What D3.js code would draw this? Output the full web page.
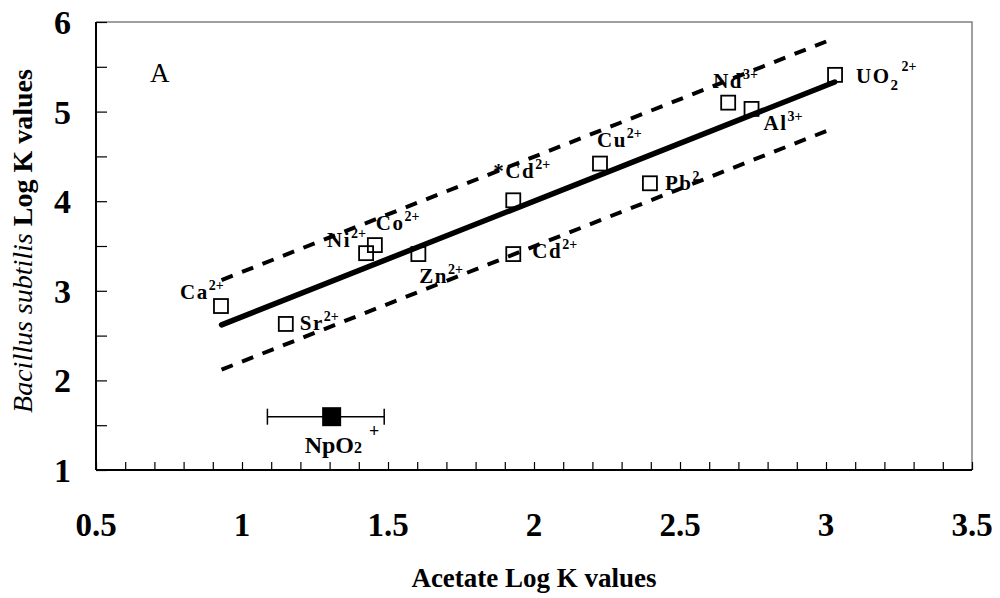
<!DOCTYPE html>
<html>
<head>
<meta charset="utf-8">
<script src="https://cdn.jsdelivr.net/npm/d3@7"></script>
<style>
  body { margin: 0; background: #fff; }
  text { font-family: "Liberation Serif", "Times New Roman", serif; }
</style>
</head>
<body>
<div id="chart"></div>
<script>
// metal ions: acetate log K (x) vs Bacillus subtilis log K (y)
var ions = ["Ca", "Sr", "Ni", "Co", "Zn", "*Cd", "Cd", "Cu", "Pb", "Nd", "Al", "UO"];
var ionSub = ["", "", "", "", "", "", "", "", "", "", "", "2"];
var ionSup = ["2+", "2+", "2+", "2+", "2+", "2+", "2+", "2+", "2", "3+", "3+", "2+"];
var acetateK = [0.928, 1.150, 1.425, 1.455, 1.604, 1.929, 1.929, 2.226, 2.397, 2.665, 2.745, 3.031];
var bacillusK = [2.83, 2.63, 3.42, 3.51, 3.41, 4.01, 3.41, 4.42, 4.20, 5.10, 5.03, 5.41];

// neptunyl point with error bar
var npX = 1.307, npY = 1.595, npLow = 1.087, npHigh = 1.487;

// regression line and its bounds (endpoints)
var fitX = [0.93, 3.03];
var fitY = [2.62, 5.33];
var upperY = [3.12, 5.82];
var lowerY = [2.12, 4.82];

var xTicks = [0.5, 1, 1.5, 2, 2.5, 3, 3.5];
var yTicks = [1, 2, 3, 4, 5, 6];

function drawChart() {
    // label placement relative to each point (px)
    var labelOffset = {
        "Ca": [-41, -7], "Sr": [14, 6], "Ni": [-39, -6], "Co": [1, -15],
        "Zn": [1, 29], "*Cd": [-20, -22], "Cd": [19, 4], "Cu": [-3, -17],
        "Pb": [15, 7], "Nd": [-15, -15], "Al": [12, 21], "UO": [21, 8]
    };

    var width = 1000, height = 598;
    var mLeft = 96, mRight = 972, mTop = 22, mBottom = 470;

    var svg = d3.select("#chart").append("svg")
        .attr("width", width)
        .attr("height", height);

    var x = d3.scaleLinear().domain([0.5, 3.5]).range([mLeft, mRight]);
    var y = d3.scaleLinear().domain([1, 6]).range([mBottom, mTop]);

    // frame (top and right in grey)
    svg.append("path")
        .attr("d", "M" + mLeft + "," + mTop + "H" + mRight + "V" + mBottom)
        .style("fill", "none")
        .style("stroke", "#808080")
        .style("stroke-width", 1.5);

    // x axis, ticks inside every 0.1
    var xAxis = svg.append("g")
        .attr("transform", "translate(0," + mBottom + ")")
        .call(d3.axisTop(x).tickValues(d3.range(5, 36).map(function (d) { return d / 10; }))
            .tickSize(8).tickFormat(""));
    xAxis.select(".domain").remove();
    xAxis.selectAll("line").style("stroke", "#000").style("stroke-width", 1.2);
    svg.append("line")
        .attr("x1", mLeft).attr("x2", mRight)
        .attr("y1", mBottom).attr("y2", mBottom)
        .style("stroke", "#000").style("stroke-width", 2);

    // y axis, ticks inside every 0.5
    var yAxis = svg.append("g")
        .attr("transform", "translate(" + mLeft + ",0)")
        .call(d3.axisRight(y).tickValues(d3.range(2, 13).map(function (d) { return d / 2; }))
            .tickSize(11).tickFormat(""));
    yAxis.select(".domain").remove();
    yAxis.selectAll("line").style("stroke", "#000").style("stroke-width", 1.2);
    svg.append("line")
        .attr("x1", mLeft).attr("x2", mLeft)
        .attr("y1", mTop).attr("y2", mBottom)
        .style("stroke", "#000").style("stroke-width", 2);

    // tick labels
    svg.selectAll(".xlab").data(xTicks).enter().append("text")
        .attr("x", function (d) { return x(d); })
        .attr("y", 536)
        .attr("text-anchor", "middle")
        .style("font-size", "33px").style("font-weight", "bold")
        .text(function (d) { return d; });

    svg.selectAll(".ylab").data(yTicks).enter().append("text")
        .attr("x", 71)
        .attr("y", function (d) { return y(d) + 12; })
        .attr("text-anchor", "end")
        .style("font-size", "34px").style("font-weight", "bold")
        .text(function (d) { return d; });

    // axis titles
    svg.append("text")
        .attr("x", 534).attr("y", 587)
        .attr("text-anchor", "middle")
        .style("font-size", "27px").style("font-weight", "bold")
        .text("Acetate Log K values");

    var yt = svg.append("text")
        .attr("transform", "translate(32,241) rotate(-90)")
        .attr("text-anchor", "middle")
        .style("font-size", "28px");
    yt.append("tspan").style("font-style", "italic").text("Bacillus subtilis ");
    yt.append("tspan").style("font-weight", "bold").text("Log K values");

    // panel letter
    svg.append("text")
        .attr("x", 150).attr("y", 82)
        .style("font-size", "27px")
        .text("A");

    // regression line and dashed bounds
    var line = d3.line()
        .x(function (d) { return x(d[0]); })
        .y(function (d) { return y(d[1]); });

    svg.append("path")
        .datum(d3.zip(fitX, upperY))
        .attr("d", line)
        .style("fill", "none").style("stroke", "#000")
        .style("stroke-width", 4).style("stroke-dasharray", "12,10");

    svg.append("path")
        .datum(d3.zip(fitX, lowerY))
        .attr("d", line)
        .style("fill", "none").style("stroke", "#000")
        .style("stroke-width", 4).style("stroke-dasharray", "12,10");

    svg.append("path")
        .datum(d3.zip(fitX, fitY))
        .attr("d", line)
        .style("fill", "none").style("stroke", "#000")
        .style("stroke-width", 5.5).style("stroke-linecap", "round");

    // open squares
    var sq = 14;
    svg.selectAll(".pt").data(ions).enter().append("rect")
        .attr("x", function (d, i) { return x(acetateK[i]) - sq / 2; })
        .attr("y", function (d, i) { return y(bacillusK[i]) - sq / 2; })
        .attr("width", sq).attr("height", sq)
        .style("fill", "none").style("stroke", "#000").style("stroke-width", 1.8);

    // ion labels
    ions.forEach(function (d, i) {
        var off = labelOffset[d];
        var t = svg.append("text")
            .attr("x", x(acetateK[i]) + off[0])
            .attr("y", y(bacillusK[i]) + off[1])
            .style("font-size", "21px").style("font-weight", "bold")
            .style("letter-spacing", "1.5px");
        t.append("tspan").text(d);
        if (ionSub[i]) {
            t.append("tspan").attr("dy", 7).style("font-size", "15px").text(ionSub[i]);
            t.append("tspan").attr("dy", -19).attr("dx", 2).style("font-size", "14px")
                .style("letter-spacing", "0px").text(ionSup[i]);
        } else {
            t.append("tspan").attr("dy", -9).style("font-size", "14px")
                .style("letter-spacing", "0px").text(ionSup[i]);
        }
    });

    // NpO2+ with error bar
    var ebY = y(npY);
    svg.append("line")
        .attr("x1", x(npLow)).attr("x2", x(npHigh))
        .attr("y1", ebY).attr("y2", ebY)
        .style("stroke", "#000").style("stroke-width", 1.5);
    [npLow, npHigh].forEach(function (v) {
        svg.append("line")
            .attr("x1", x(v)).attr("x2", x(v))
            .attr("y1", ebY - 8).attr("y2", ebY + 8)
            .style("stroke", "#000").style("stroke-width", 1.5);
    });
    svg.append("rect")
        .attr("x", x(npX) - 9.5).attr("y", ebY - 9.5)
        .attr("width", 19).attr("height", 19)
        .style("fill", "#000");

    var np = svg.append("text")
        .attr("x", x(npX) - 27).attr("y", ebY + 36)
        .style("font-size", "24px").style("font-weight", "bold");
    np.append("tspan").text("NpO");
    np.append("tspan").style("font-size", "16px").text("2");
    np.append("tspan").attr("dy", -16).attr("dx", 7).style("font-size", "18px").text("+");
}
drawChart();
</script>
</body>
</html>
